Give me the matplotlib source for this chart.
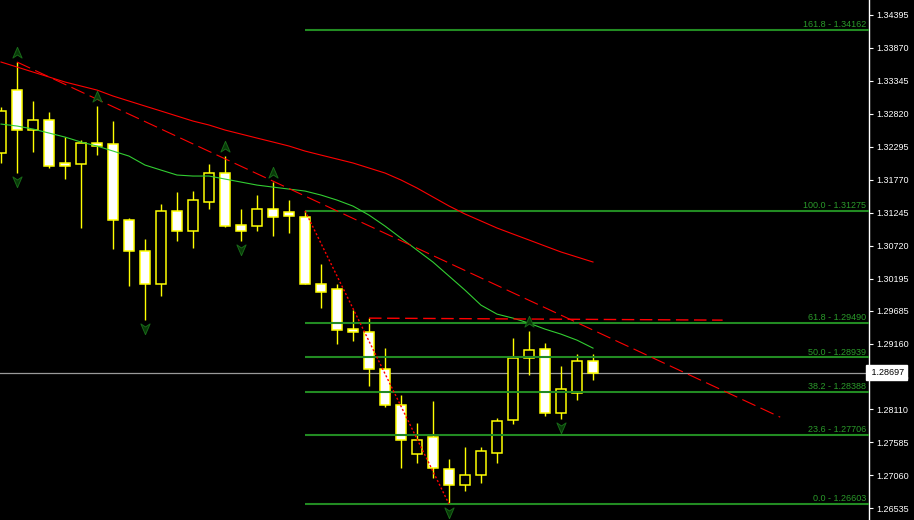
import numpy as np
import matplotlib.pyplot as plt
from matplotlib.path import Path
from matplotlib.transforms import blended_transform_factory

# OHLC (one entry per bar, oldest first)
opens = [1.32195, 1.33199, 1.32562, 1.32721, 1.32036, 1.32020, 1.32355, 1.32339,
         1.31127, 1.30633, 1.30107, 1.31271, 1.30952, 1.31414, 1.31876, 1.31048,
         1.31032, 1.31303, 1.31255, 1.31175, 1.30107, 1.30027, 1.29390, 1.29342,
         1.28752, 1.28178, 1.27397, 1.27668, 1.27158, 1.26903, 1.27062, 1.27413,
         1.27939, 1.28928, 1.29071, 1.28051, 1.28370, 1.28880]
highs = [1.32928, 1.33646, 1.33024, 1.32849, 1.32450, 1.32402, 1.32944, 1.32705,
         1.31159, 1.30824, 1.31382, 1.31574, 1.31590, 1.32020, 1.32147, 1.31303,
         1.31526, 1.31733, 1.31446, 1.31275, 1.30426, 1.30107, 1.29693, 1.29565,
         1.29087, 1.28338, 1.27891, 1.28242, 1.27318, 1.27509, 1.27509, 1.27971,
         1.29246, 1.29358, 1.29167, 1.28800, 1.28991, 1.28991]
lows = [1.32036, 1.31876, 1.32211, 1.31956, 1.31781, 1.31000, 1.32163, 1.30665,
        1.30075, 1.29533, 1.29916, 1.30793, 1.30681, 1.31303, 1.31016, 1.30793,
        1.30952, 1.30872, 1.30920, 1.30107, 1.29725, 1.29151, 1.29199, 1.28481,
        1.28146, 1.27174, 1.27254, 1.27015, 1.26603, 1.26808, 1.26935, 1.27254,
        1.27875, 1.28657, 1.28003, 1.27955, 1.28258, 1.28577]
closes = [1.32865, 1.32562, 1.32721, 1.31988, 1.31988, 1.32355, 1.32307, 1.31127,
          1.30633, 1.30107, 1.31271, 1.30952, 1.31446, 1.31876, 1.31032, 1.30952,
          1.31303, 1.31175, 1.31191, 1.30107, 1.29980, 1.29374, 1.29342, 1.28752,
          1.28178, 1.27620, 1.27620, 1.27174, 1.26903, 1.27062, 1.27445, 1.27923,
          1.28928, 1.29055, 1.28051, 1.28433, 1.28880, 1.28697]

# moving averages (values at each bar)
ma_slow = [1.33646, 1.33566, 1.33486, 1.33407, 1.33327, 1.33263, 1.33199, 1.33104,
           1.33024, 1.32944, 1.32865, 1.32785, 1.32705, 1.32642, 1.32562, 1.32498,
           1.32434, 1.32371, 1.32307, 1.32227, 1.32163, 1.32100, 1.32037, 1.31957,
           1.31877, 1.31766, 1.31638, 1.31495, 1.31352, 1.31224, 1.31113, 1.31001,
           1.30905, 1.30810, 1.30714, 1.30619, 1.30539, 1.30459]
ma_fast = [1.32657, 1.32626, 1.32578, 1.32514, 1.32450, 1.32371, 1.32307, 1.32227,
           1.32147, 1.32004, 1.31924, 1.31845, 1.31829, 1.31829, 1.31781, 1.31733,
           1.31685, 1.31653, 1.31621, 1.31590, 1.31526, 1.31446, 1.31350, 1.31207,
           1.31032, 1.30840, 1.30649, 1.30458, 1.30235, 1.30011, 1.29772, 1.29629,
           1.29565, 1.29485, 1.29390, 1.29310, 1.29214, 1.29087]

# fractal bars
up_fractals = [1, 6, 14, 17, 33]
down_fractals = [1, 9, 15, 28, 35]

# fibonacci retracement
fib_levels = ['0.0', '23.6', '38.2', '50.0', '61.8', '100.0', '161.8']
fib_prices = [1.26603, 1.27706, 1.28388, 1.28939, 1.29490, 1.31275, 1.34162]
fib_start = 19

# drawn lines (bar index, price)
trend_x, trend_p = [1, 48.7], [1.33646, 1.27987]
flat_x, flat_p = [23, 45.1], [1.29565, 1.29533]
zig_x, zig_p = [19, 28], [1.31275, 1.26603]

last_price = 1.28697
tick_labels = ['1.34395', '1.33870', '1.33345', '1.32820', '1.32295', '1.31770',
               '1.31245', '1.30720', '1.30195', '1.29685', '1.29160', '1.28635',
               '1.28110', '1.27585', '1.27060', '1.26535']

plt.rcParams['font.family'] = ['Liberation Sans', 'DejaVu Sans']

fig = plt.figure(figsize=(9.14, 5.2), dpi=100, facecolor='black')
ax = fig.add_axes([0, 0, 869 / 914, 1])
ax.set_facecolor('black')

n = len(opens)
x = np.arange(n)
o, h, l, c = map(np.array, (opens, highs, lows, closes))

# candles
ax.vlines(x, l, h, color='#ffff00', lw=1.0, zorder=2)
bull = c >= o
body_bot = np.minimum(o, c)
body_h = np.maximum(np.abs(c - o), 0.00003)
ax.bar(x[bull], body_h[bull], bottom=body_bot[bull], width=0.62,
       facecolor='black', edgecolor='#ffff00', lw=1.1, zorder=3)
ax.bar(x[~bull], body_h[~bull], bottom=body_bot[~bull], width=0.62,
       facecolor='white', edgecolor='#ffff00', lw=1.1, zorder=3)

# last price line
ax.axhline(last_price, color='#9a9a9a', lw=0.9, zorder=1)

# fibonacci
xmax = (869 - 1) / 16
for lev, p in zip(fib_levels, fib_prices):
    ax.plot([fib_start, xmax], [p, p], color='#228b22', lw=1.5, zorder=4,
            solid_capstyle='butt')
    ax.annotate(f'{lev} - {p:.5f}', xy=(xmax - 0.2, p), xytext=(0, 0.6),
                textcoords='offset points', ha='right', va='bottom',
                color='#2a9a2a', fontsize=6.5, zorder=5)

# moving averages
ax.plot(x, ma_slow, color='#ff0000', lw=0.8, zorder=5)
ax.plot(x, ma_fast, color='#32cd32', lw=0.8, zorder=5)

# drawn lines
ax.plot(trend_x, trend_p, color='#ff0000', lw=0.8, dashes=(13, 5), zorder=5)
ax.plot(flat_x, flat_p, color='#ff0000', lw=1.0, dashes=(9, 4), zorder=5)
ax.plot(zig_x, zig_p, color='#ff0000', lw=1.0, ls=(0, (1.5, 1.5)), zorder=6)

# fractal arrows
up_arrow = Path([(0, 1), (0.75, -0.75), (0, -0.25), (-0.75, -0.75), (0, 1)])
down_arrow = Path([(0, -1), (0.75, 0.75), (0, 0.25), (-0.75, 0.75), (0, -1)])
px = 0.00015934
ax.scatter(up_fractals, h[up_fractals] + 9.5 * px, marker=up_arrow, s=78,
           facecolor='#083a08', edgecolor='#186818', lw=0.7, zorder=6)
ax.scatter(down_fractals, l[down_fractals] - 8 * px, marker=down_arrow, s=78,
           facecolor='#083a08', edgecolor='#186818', lw=0.7, zorder=6)

# axes
ax.set_xlim(-1 / 16, xmax)
ax.set_ylim(1.34395 - 505 * px, 1.34395 + 15 * px)
ax.set_xticks([])
ax.set_yticks([float(t) for t in tick_labels])
ax.set_yticklabels(tick_labels)
ax.yaxis.tick_right()
ax.tick_params(axis='y', colors='white', labelsize=6.5, length=3, width=0.8, pad=2)
for s in ('left', 'top', 'bottom'):
    ax.spines[s].set_visible(False)
ax.spines['right'].set_color('white')
ax.spines['right'].set_linewidth(1.0)

trans = blended_transform_factory(ax.transAxes, ax.transData)
ax.text(1.0, last_price, ' 1.28697', transform=trans, ha='left', va='center',
        color='black', fontsize=6.5, zorder=10, clip_on=False,
        bbox=dict(boxstyle='square,pad=0.3', fc='white', ec='white'))

fig.savefig('out.png', dpi=100, facecolor='black')
